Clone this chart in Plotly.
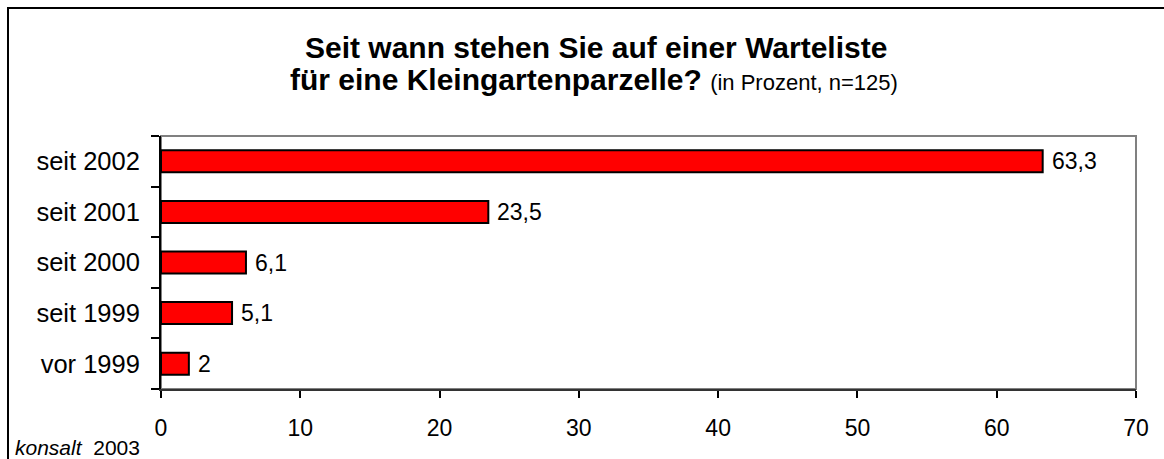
import plotly.graph_objects as go

categories = ["vor 1999", "seit 1999", "seit 2000", "seit 2001", "seit 2002"]
values = [2.0, 5.1, 6.1, 23.5, 63.3]
labels = ["2", "5,1", "6,1", "23,5", "63,3"]
x_ticks = [0, 10, 20, 30, 40, 50, 60, 70]

FONT = "Liberation Sans, Arial, sans-serif"

fig = go.Figure()
fig.add_trace(go.Bar(
    y=categories, x=values, orientation="h",
    marker=dict(color="#FF0000", line=dict(color="#000000", width=2)),
    hoverinfo="skip",
))

for c, v, t in zip(categories, values, labels):
    fig.add_annotation(x=v, y=c, xref="x", yref="y", text=t, showarrow=False,
                       xanchor="left", yanchor="middle", xshift=7,
                       font=dict(family=FONT, size=23, color="#000000"))

# plot area border (top/right gray)
fig.add_shape(type="rect", xref="paper", yref="paper", x0=0, x1=1, y0=0, y1=1,
              line=dict(color="#808080", width=2), layer="below")
# outer frame
fig.add_shape(type="rect", xref="paper", yref="paper",
              x0=(8 - 161) / 975, x1=1.2, y0=-0.5, y1=1 + (136 - 8) / 253,
              line=dict(color="#000000", width=2))

fig.add_annotation(x=(596 - 161) / 975, y=1 + (136 - 47) / 253, xref="paper", yref="paper",
                   text="<b>Seit wann stehen Sie auf einer Warteliste</b>", showarrow=False,
                   xanchor="center", yanchor="middle",
                   font=dict(family=FONT, size=30, color="#000000"))
fig.add_annotation(x=(594 - 161) / 975, y=1 + (136 - 80) / 253, xref="paper", yref="paper",
                   text="<b>für eine Kleingartenparzelle?</b> <span style='font-size:22px'>(in Prozent, n=125)</span>",
                   showarrow=False, xanchor="center", yanchor="middle",
                   font=dict(family=FONT, size=30, color="#000000"))
fig.add_annotation(x=(13 - 161) / 975, y=-(447 - 389) / 253, xref="paper", yref="paper",
                   text="<i>konsalt</i>  2003", showarrow=False,
                   xanchor="left", yanchor="middle",
                   font=dict(family=FONT, size=21, color="#000000"))

fig.update_layout(
    width=1164, height=459,
    margin=dict(l=161, r=28, t=136, b=70),
    paper_bgcolor="#FFFFFF", plot_bgcolor="#FFFFFF",
    showlegend=False, bargap=0.565,
    font=dict(family=FONT, color="#000000"),
)
fig.update_xaxes(range=[0, 70], tickvals=x_ticks, ticks="outside", ticklen=7,
                 tickwidth=1.5, tickcolor="#000000", showgrid=False, zeroline=False,
                 showline=True, linecolor="#333333", linewidth=2,
                 tickfont=dict(family=FONT, size=23, color="#000000"),
                 ticklabelstandoff=10)
fig.update_yaxes(categoryorder="array", categoryarray=categories,
                 ticks="outside", tickson="boundaries", ticklen=8, tickwidth=1.5,
                 tickcolor="#000000", showgrid=False, zeroline=False,
                 showline=True, linecolor="#000000", linewidth=2,
                 tickfont=dict(family=FONT, size=25.5, color="#000000"),
                 ticklabelstandoff=14)

fig.write_html("out.html", config={"displayModeBar": False},
               post_script="document.body.style.margin='0';document.body.style.overflow='hidden';")
